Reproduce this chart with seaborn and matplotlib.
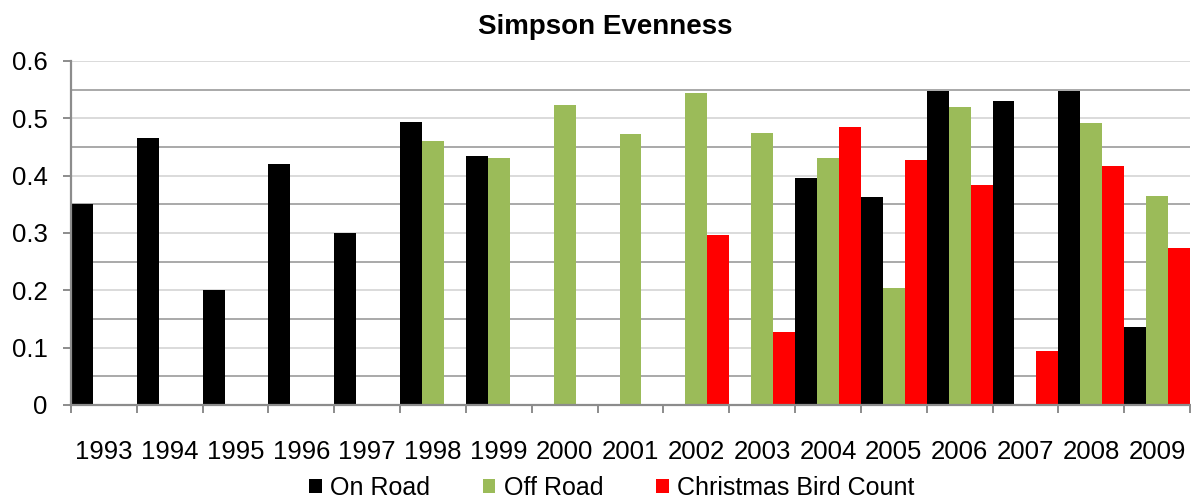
import pandas as pd
import numpy as np
import seaborn as sns
import matplotlib.pyplot as plt
from matplotlib.ticker import FixedLocator

# Data (NaN = no bar for that year)
years = [str(y) for y in range(1993, 2010)]
on_road = [0.35, 0.465, 0.20, 0.42, 0.30, 0.493, 0.434, np.nan, np.nan, np.nan,
           np.nan, 0.396, 0.362, 0.547, 0.530, 0.547, 0.136]
off_road = [np.nan, np.nan, np.nan, np.nan, np.nan, 0.461, 0.430, 0.523, 0.472, 0.544,
            0.475, 0.430, 0.204, 0.520, np.nan, 0.492, 0.365]
christmas = [np.nan, np.nan, np.nan, np.nan, np.nan, np.nan, np.nan, np.nan, np.nan, 0.297,
             0.128, 0.485, 0.427, 0.383, 0.094, 0.417, 0.273]
series_names = ['On Road', 'Off Road', 'Christmas Bird Count']
colors = ['#000000', '#9BBB59', '#FF0000']
y_ticks = [0, 0.1, 0.2, 0.3, 0.4, 0.5, 0.6]
y_labels = ['0', '0.1', '0.2', '0.3', '0.4', '0.5', '0.6']

# Long format for seaborn
df = pd.DataFrame({
    'Year': years * 3,
    'Value': on_road + off_road + christmas,
    'Series': [series_names[0]] * 17 + [series_names[1]] * 17 + [series_names[2]] * 17,
})

sns.set_theme(style='white')
plt.rcParams['font.family'] = ['Liberation Sans', 'DejaVu Sans']
plt.rcParams['text.color'] = 'black'

W, H = 1191, 499
fig = plt.figure(figsize=(W / 100, H / 100), dpi=100)
ax = fig.add_axes([71 / W, 94 / H, 1119 / W, 344 / H])

sns.barplot(data=df, x='Year', y='Value', hue='Series', order=years,
            hue_order=series_names, palette=colors, saturation=1, width=1.0, gap=0,
            errorbar=None, linewidth=0, ax=ax)

handles, labels = ax.get_legend_handles_labels()
if ax.get_legend() is not None:
    ax.get_legend().remove()

ax.set_xlim(-0.5, 16.5)
ax.set_ylim(0, 0.6)
ax.set_xlabel('')
ax.set_ylabel('')

# gridlines: light at 0.1 steps, darker in between
ax.set_yticks(y_ticks)
ax.set_yticklabels(y_labels)
ax.yaxis.set_minor_locator(FixedLocator([0.05, 0.15, 0.25, 0.35, 0.45, 0.55]))
ax.yaxis.grid(True, which='major', color='#dadada', linewidth=1.4)
ax.yaxis.grid(True, which='minor', color='#a9a9a9', linewidth=1.4)
ax.xaxis.grid(False)
ax.set_axisbelow(True)

# x ticks at category boundaries, labels centred
ax.xaxis.set_minor_locator(FixedLocator(np.arange(-0.5, 17, 1.0)))
ax.tick_params(axis='x', which='major', length=0, pad=25, labelsize=18.5, labelcolor='black')
ax.tick_params(axis='x', which='minor', length=5.5, width=1.4, color='#8c8c8c', direction='out', bottom=True)
ax.tick_params(axis='y', which='major', length=6, width=1.4, color='#8c8c8c', direction='out',
               left=True, pad=11, labelsize=18.5, labelcolor='black')
ax.tick_params(axis='y', which='minor', length=0)

for side in ['top', 'right']:
    ax.spines[side].set_visible(False)
for side in ['left', 'bottom']:
    ax.spines[side].set_color('#8c8c8c')
    ax.spines[side].set_linewidth(1.6)

fig.text(605 / W, 1 - 27 / H, 'Simpson Evenness', ha='center', va='center',
         fontsize=20, fontweight='bold', color='black')

leg = fig.legend(handles, labels, loc='center', bbox_to_anchor=(612 / W, 1 - 488 / H),
                 ncol=3, frameon=False, fontsize=18, handlelength=0.5, handleheight=0.5,
                 handletextpad=0.35, columnspacing=2.1, borderaxespad=0, borderpad=0)
for t in leg.get_texts():
    t.set_color('black')

plt.savefig('out.png', dpi=100)
plt.close()
